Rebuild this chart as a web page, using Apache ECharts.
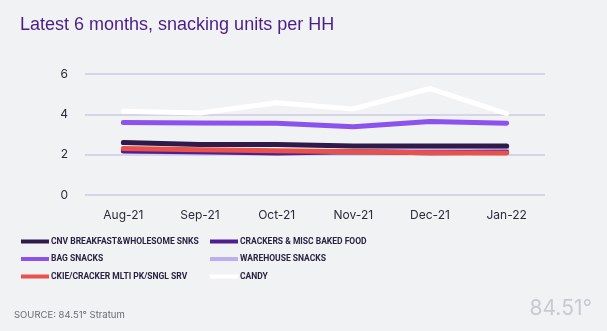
<!DOCTYPE html>
<html><head><meta charset="utf-8">
<script src="https://cdn.jsdelivr.net/npm/echarts@6/dist/echarts.min.js"></script>
<style>html,body{margin:0;padding:0;background:#f1f2f4;}#c{width:607px;height:331px;}</style>
</head><body><div id="c"></div>
<script>
const categories = ['Aug-21','Sep-21','Oct-21','Nov-21','Dec-21','Jan-22'];
const cnvBreakfast = [2.6, 2.5, 2.5, 2.43, 2.43, 2.43];
const crackersMisc = [2.18, 2.15, 2.08, 2.14, 2.1, 2.12];
const bagSnacks = [3.6, 3.57, 3.56, 3.38, 3.65, 3.56];
const warehouseSnacks = [2.2, 2.1, 2.15, 2.15, 2.22, 2.28];
const ckieCracker = [2.3, 2.24, 2.2, 2.15, 2.09, 2.08];
const candy = [4.15, 4.07, 4.57, 4.27, 5.28, 4.04];
const yTicks = [0, 2, 4, 6];

const names = ['CNV BREAKFAST&WHOLESOME SNKS','CRACKERS & MISC BAKED FOOD','BAG SNACKS','WAREHOUSE SNACKS','CKIE/CRACKER MLTI PK/SNGL SRV','CANDY'];
const colors = ['#2f1a4a','#4f1f8f','#8b52ee','#bcaef0','#e9514a','#ffffff'];
const datas = [cnvBreakfast, crackersMisc, bagSnacks, warehouseSnacks, ckieCracker, candy];
const order = [3,1,0,2,4,5];
const series = order.map(i => ({
  name: names[i], type: 'line', data: datas[i], showSymbol: false, symbol: 'none',
  lineStyle: {width: 5, color: colors[i], cap: 'round', join: 'round'},
  itemStyle: {color: colors[i]}, z: 2 + order.indexOf(i), animation: false
}));
const legText = {color: '#2a2340', fontFamily: 'Roboto', fontWeight: 'bold', fontSize: 8.5, padding: [0,0,0,-3]};
const chart = echarts.init(document.getElementById('c'));
chart.setOption({
  backgroundColor: '#f1f2f4',
  animation: false,
  title: [{text: 'Latest 6 months, snacking units per HH', left: 15, top: 11,
    textStyle: {color: '#4b1d87', fontFamily: 'Liberation Sans', fontWeight: 'normal', fontSize: 18}},
    {text: 'SOURCE: 84.51° Stratum', left: 9, top: 305, textStyle: {color: '#6a6a72', fontFamily: 'Inter', fontWeight: 'normal', fontSize: 9.5}},
    {text: '84.51°', right: 10, top: 293, textStyle: {color: '#c9cad0', fontFamily: 'Inter', fontWeight: 'normal', fontSize: 21}}],
  grid: {left: 85, right: 62, top: 74, bottom: 136},
  legend: [
    {data: [names[0], names[2], names[4]], orient: 'vertical', left: 21, top: 237, itemGap: 8.5, itemWidth: 28, itemHeight: 4, icon: 'rect', textStyle: legText, padding: 0},
    {data: [names[1], names[3], names[5]], orient: 'vertical', left: 210, top: 237, itemGap: 8.5, itemWidth: 28, itemHeight: 4, icon: 'rect', textStyle: legText, padding: 0}
  ],
  xAxis: {type: 'category', data: categories, boundaryGap: true,
    axisLine: {show: false}, axisTick: {show: false},
    axisLabel: {color: '#2a2a3a', fontFamily: 'Inter', fontSize: 12, margin: 14}},
  yAxis: {type: 'value', min: 0, max: 6, interval: 2,
    axisLine: {show: false}, axisTick: {show: false},
    splitLine: {lineStyle: {color: '#d6d4e6', width: 2}},
    axisLabel: {color: '#2a2a3a', fontFamily: 'Inter', fontSize: 12, margin: 17,
      formatter: v => yTicks.includes(v) ? String(v) : ''}},
  series: series
});
</script></body></html>
